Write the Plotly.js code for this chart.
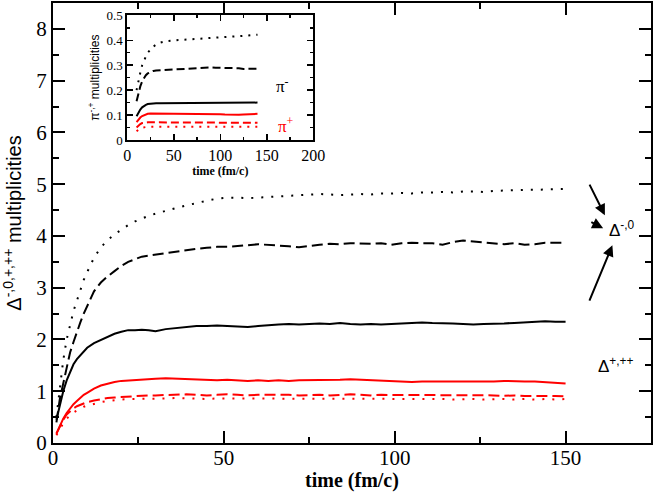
<!DOCTYPE html>
<html>
<head>
<meta charset="utf-8">
<script src="https://cdn.plot.ly/plotly-3.0.1.min.js"></script>
<style>html,body{margin:0;padding:0;background:#fff;}#chart{width:654px;height:492px;}</style>
</head>
<body>
<div id="chart"></div>
<script>
// ---- main panel data: Delta multiplicities vs time (fm/c) ----
const tMain = [1,2,3,4,5,6,7,8,9,10,12,14,16,18,20,22,24,26,28,30,33,36,39,42,45,48,51,54,57,60,63,66,69,72,75,78,81,84,87,90,93,96,99,102,105,108,111,114,117,120,123,126,129,132,135,138,141,144,147,150];
const blackSolid = [0.45,0.75,1.0,1.21,1.38,1.52,1.62,1.70,1.78,1.84,1.93,1.99,2.06,2.11,2.15,2.18,2.18,2.19,2.18,2.16,2.20,2.22,2.25,2.26,2.26,2.27,2.26,2.25,2.24,2.26,2.28,2.29,2.30,2.29,2.30,2.31,2.30,2.32,2.30,2.29,2.30,2.29,2.30,2.31,2.32,2.33,2.32,2.32,2.31,2.30,2.29,2.30,2.30,2.31,2.32,2.33,2.34,2.35,2.34,2.34];
const blackDash = [0.40,0.85,1.15,1.45,1.75,1.95,2.15,2.33,2.50,2.65,2.93,3.10,3.22,3.32,3.42,3.50,3.55,3.60,3.62,3.64,3.67,3.70,3.72,3.75,3.77,3.79,3.79,3.80,3.82,3.84,3.83,3.82,3.80,3.78,3.81,3.83,3.85,3.84,3.86,3.85,3.85,3.86,3.83,3.86,3.87,3.86,3.86,3.83,3.88,3.91,3.89,3.87,3.86,3.84,3.86,3.83,3.84,3.87,3.87,3.87];
const blackDot = [0.50,1.10,1.60,2.00,2.30,2.55,2.75,2.95,3.15,3.30,3.58,3.78,3.92,4.03,4.12,4.21,4.28,4.34,4.39,4.43,4.49,4.54,4.59,4.64,4.68,4.72,4.74,4.74,4.73,4.74,4.75,4.76,4.77,4.79,4.80,4.81,4.80,4.79,4.80,4.81,4.80,4.82,4.82,4.83,4.82,4.84,4.84,4.85,4.84,4.86,4.86,4.85,4.87,4.88,4.88,4.89,4.89,4.90,4.90,4.91];
const redSolid = [0.18,0.33,0.47,0.58,0.67,0.75,0.81,0.87,0.93,0.97,1.05,1.11,1.15,1.18,1.20,1.21,1.22,1.22,1.23,1.24,1.25,1.24,1.23,1.22,1.21,1.21,1.22,1.21,1.20,1.21,1.20,1.21,1.20,1.21,1.21,1.22,1.21,1.22,1.23,1.22,1.21,1.20,1.20,1.19,1.18,1.19,1.19,1.18,1.19,1.19,1.18,1.18,1.19,1.20,1.19,1.19,1.19,1.18,1.17,1.15];
const redDash = [0.18,0.33,0.45,0.55,0.62,0.67,0.71,0.74,0.77,0.79,0.82,0.85,0.87,0.88,0.89,0.90,0.90,0.91,0.92,0.92,0.93,0.93,0.94,0.93,0.92,0.93,0.94,0.93,0.92,0.93,0.93,0.94,0.93,0.92,0.93,0.93,0.92,0.93,0.94,0.93,0.92,0.93,0.93,0.92,0.93,0.92,0.93,0.92,0.93,0.92,0.92,0.93,0.92,0.91,0.92,0.91,0.91,0.92,0.91,0.90];
const redDot = [0.15,0.28,0.38,0.47,0.53,0.59,0.63,0.67,0.70,0.72,0.76,0.79,0.81,0.83,0.84,0.85,0.85,0.86,0.86,0.86,0.86,0.87,0.86,0.86,0.85,0.86,0.86,0.85,0.86,0.86,0.85,0.86,0.86,0.85,0.86,0.85,0.86,0.85,0.85,0.86,0.85,0.85,0.86,0.85,0.85,0.86,0.85,0.85,0.84,0.85,0.85,0.84,0.85,0.85,0.84,0.85,0.84,0.85,0.84,0.85];

// ---- inset data: pion multiplicities vs time (fm/c) ----
const tInset = [10,12,14,16,18,20,22,25,28,31,35,40,45,50,55,60,65,70,75,80,85,90,95,100,105,110,115,120,125,130,135,140];
const piBlackDot = [0.200,0.240,0.270,0.300,0.320,0.335,0.350,0.365,0.375,0.382,0.390,0.395,0.398,0.400,0.401,0.402,0.403,0.404,0.405,0.406,0.407,0.408,0.409,0.410,0.411,0.412,0.413,0.415,0.417,0.419,0.421,0.422];
const piBlackDash = [0.155,0.190,0.215,0.235,0.250,0.260,0.267,0.273,0.277,0.279,0.280,0.281,0.282,0.283,0.284,0.285,0.287,0.288,0.289,0.290,0.291,0.291,0.290,0.290,0.290,0.290,0.289,0.288,0.285,0.285,0.286,0.286];
const piBlackSolid = [0.095,0.110,0.122,0.131,0.137,0.141,0.144,0.146,0.147,0.147,0.147,0.147,0.147,0.147,0.147,0.147,0.148,0.148,0.148,0.148,0.148,0.148,0.148,0.148,0.148,0.149,0.149,0.149,0.149,0.150,0.150,0.150];
const piRedSolid = [0.072,0.082,0.090,0.096,0.100,0.103,0.105,0.106,0.106,0.106,0.105,0.105,0.104,0.104,0.104,0.104,0.103,0.103,0.103,0.103,0.103,0.103,0.103,0.103,0.102,0.101,0.100,0.101,0.102,0.104,0.105,0.105];
const piRedDash = [0.050,0.058,0.064,0.068,0.070,0.071,0.071,0.071,0.071,0.070,0.070,0.070,0.070,0.070,0.071,0.070,0.070,0.070,0.069,0.069,0.070,0.070,0.069,0.069,0.069,0.069,0.069,0.069,0.069,0.069,0.069,0.069];
const piRedDot = [0.035,0.042,0.047,0.050,0.052,0.053,0.053,0.053,0.053,0.053,0.053,0.053,0.053,0.053,0.053,0.053,0.053,0.053,0.053,0.053,0.053,0.053,0.053,0.053,0.053,0.053,0.053,0.053,0.053,0.053,0.053,0.053];

const xTicksMain = [0,50,100,150];
const yTicksMain = [0,1,2,3,4,5,6,7,8];
const xTicksInset = [0,50,100,150,200];
const yTicksInset = [0,0.1,0.2,0.3,0.4,0.5];
const yTickTextInset = ['0','0.1','0.2','0.3','0.4','0.5'];

const SERIF = 'Liberation Serif';
const SANS = 'Liberation Sans';
const BLACK = '#000000', RED = '#ff0000';

function tr(x, y, color, dash, w, xa, ya) {
  return {x: x, y: y, type: 'scatter', mode: 'lines', xaxis: xa, yaxis: ya,
          line: {color: color, dash: dash, width: w}, showlegend: false, hoverinfo: 'skip'};
}
const DOT = '2px,8px', DASH = '11px,5px';
const DOTI = '2px,6px', DASHI = '8px,4px';
const data = [
  tr(tMain, blackDot, BLACK, DOT, 2, 'x', 'y'),
  tr(tMain, blackDash, BLACK, DASH, 2, 'x', 'y'),
  tr(tMain, blackSolid, BLACK, 'solid', 2, 'x', 'y'),
  tr(tMain, redSolid, RED, 'solid', 2, 'x', 'y'),
  tr(tMain, redDash, RED, DASH, 2, 'x', 'y'),
  tr(tMain, redDot, RED, DOT, 2, 'x', 'y'),
  tr(tInset, piBlackDot, BLACK, DOTI, 2, 'x2', 'y2'),
  tr(tInset, piBlackDash, BLACK, DASHI, 2, 'x2', 'y2'),
  tr(tInset, piBlackSolid, BLACK, 'solid', 2, 'x2', 'y2'),
  tr(tInset, piRedSolid, RED, 'solid', 2, 'x2', 'y2'),
  tr(tInset, piRedDash, RED, DASHI, 2, 'x2', 'y2'),
  tr(tInset, piRedDot, RED, DOTI, 2, 'x2', 'y2')
];

const axisCommon = {showgrid: false, zeroline: false, showline: true, linecolor: '#000', linewidth: 2,
  mirror: 'allticks', ticks: 'inside', tickcolor: '#000', fixedrange: true};

function arrow(x, y, ax, ay) {
  return {xref: 'x', yref: 'y', axref: 'x', ayref: 'y', x: x, y: y, ax: ax, ay: ay, text: '',
          showarrow: true, arrowhead: 2, arrowsize: 1.1, arrowwidth: 2, arrowcolor: '#000'};
}

const layout = {
  width: 654, height: 492,
  margin: {l: 53, r: 3, t: 3, b: 49, pad: 0},
  paper_bgcolor: '#fff', plot_bgcolor: '#fff',
  xaxis: Object.assign({}, axisCommon, {
    range: [0, 175], tickvals: xTicksMain, ticktext: xTicksMain.map(String), ticklen: 12, tickwidth: 2,
    minor: {dtick: 25, tick0: 0, ticks: 'inside', ticklen: 6, tickwidth: 2, tickcolor: '#000'},
    tickfont: {family: SERIF, size: 21, color: '#000'}, ticklabelstandoff: -5,
    title: {text: '<b>time (fm/c)</b>', font: {family: SERIF, size: 20, color: '#000'}, standoff: 4},
    anchor: 'y', domain: [0, 1]
  }),
  yaxis: Object.assign({}, axisCommon, {
    range: [0, 8.5], tickvals: yTicksMain, ticktext: yTicksMain.map(String), ticklen: 12, tickwidth: 2,
    minor: {dtick: 0.5, tick0: 0, ticks: 'inside', ticklen: 6, tickwidth: 2, tickcolor: '#000'},
    tickfont: {family: SERIF, size: 21, color: '#000'},
    title: {text: 'Δ<sup>-,0,+,++</sup> multiplicities', font: {family: SANS, size: 20, color: '#000'}, standoff: 12},
    anchor: 'x', domain: [0, 1]
  }),
  xaxis2: Object.assign({}, axisCommon, {
    range: [0, 200], tickvals: xTicksInset, ticktext: xTicksInset.map(String), ticklen: 6, tickwidth: 1.5, linewidth: 2,
    minor: {dtick: 25, tick0: 0, ticks: 'inside', ticklen: 3, tickwidth: 1.5, tickcolor: '#000'},
    tickfont: {family: SERIF, size: 16, color: '#000'},
    title: {text: '<b>time (fm/c)</b>', font: {family: SERIF, size: 12, color: '#000'}, standoff: 2},
    anchor: 'y2', domain: [0.1242, 0.4353]
  }),
  yaxis2: Object.assign({}, axisCommon, {
    range: [0, 0.5], tickvals: yTicksInset, ticktext: yTickTextInset, ticklen: 6, tickwidth: 1.5, linewidth: 2,
    minor: {dtick: 0.05, tick0: 0, ticks: 'inside', ticklen: 3, tickwidth: 1.5, tickcolor: '#000'},
    tickfont: {family: SERIF, size: 13, color: '#000'},
    title: {text: 'π<sup>-,+</sup> multiplicities', font: {family: SANS, size: 12, color: '#000'}, standoff: 4},
    anchor: 'x2', domain: [0.6886, 0.972]
  }),
  annotations: [
    arrow(161.5, 4.40, 156.8, 5.02),
    arrow(161.0, 4.15, 157.1, 4.28),
    arrow(163.7, 3.82, 156.8, 2.72),
    {xref: 'x', yref: 'y', x: 162.0, y: 4.13, xanchor: 'left', yanchor: 'middle', showarrow: false,
     text: 'Δ<sup>-,0</sup>', font: {family: SANS, size: 17, color: '#000'}},
    {xref: 'x', yref: 'y', x: 158.8, y: 1.50, xanchor: 'left', yanchor: 'middle', showarrow: false,
     text: 'Δ<sup>+,++</sup>', font: {family: SANS, size: 17, color: '#000'}},
    {xref: 'x2', yref: 'y2', x: 157.7, y: 0.222, xanchor: 'left', yanchor: 'middle', showarrow: false,
     text: 'π<sup>-</sup>', font: {family: SERIF, size: 17, color: '#000'}},
    {xref: 'x2', yref: 'y2', x: 159.9, y: 0.062, xanchor: 'left', yanchor: 'middle', showarrow: false,
     text: 'π<sup>+</sup>', font: {family: SERIF, size: 17, color: RED}}
  ]
};

Plotly.newPlot('chart', data, layout, {displayModeBar: false, staticPlot: true});
</script>
</body>
</html>
